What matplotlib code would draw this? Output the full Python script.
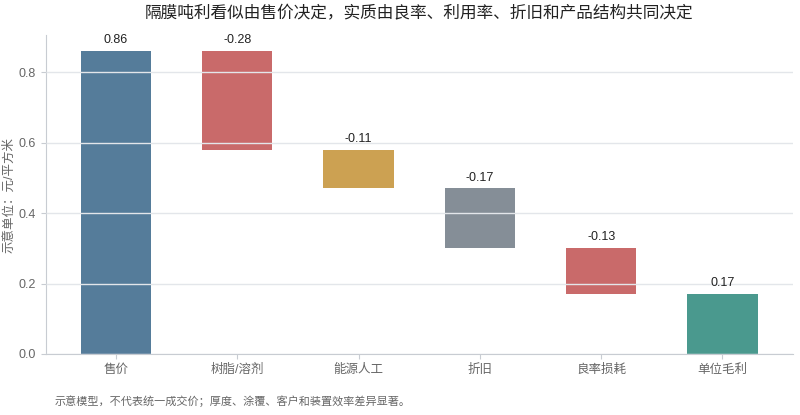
import matplotlib
matplotlib.use("Agg")
from matplotlib import pyplot as plt

# Waterfall data
categories = ["售价", "树脂/溶剂", "能源人工", "折旧", "良率损耗", "单位毛利"]
changes = [0.86, -0.28, -0.11, -0.17, -0.13, 0.17]
labels = ["0.86", "-0.28", "-0.11", "-0.17", "-0.13", "0.17"]
colors = ["#557c9a", "#c96a6a", "#cca152", "#858e97", "#c96a6a", "#4a998e"]

plt.rcParams["font.family"] = ["Liberation Sans", "Noto Sans CJK SC", "DejaVu Sans"]

fig, ax = plt.subplots(figsize=(8, 4.15), dpi=100)
fig.subplots_adjust(left=0.057, right=0.991, top=0.915, bottom=0.147)

# bottoms and heights for each bar
bottoms = []
heights = []
running = 0.0
for i, c in enumerate(changes):
    if i == 0 or i == len(changes) - 1:
        bottoms.append(0.0)
        heights.append(abs(c))
        running = c if i == 0 else running
    else:
        running += c
        bottoms.append(running)
        heights.append(-c)

x = list(range(len(categories)))
ax.bar(x, heights, bottom=bottoms, width=0.58, color=colors, zorder=1)

for xi, b, h, t in zip(x, bottoms, heights, labels):
    ax.text(xi, b + h + 0.014, t, ha="center", va="bottom", fontsize=9, color="#222222")

ax.set_xlim(-0.58, 5.58)
ax.set_ylim(0, 0.905)
ax.set_yticks([0.0, 0.2, 0.4, 0.6, 0.8])
ax.set_xticks(x)
ax.set_xticklabels(categories)
ax.yaxis.grid(True, color="#e3e6ea", linewidth=1, zorder=3)
ax.set_axisbelow(False)

for s in ["top", "right"]:
    ax.spines[s].set_visible(False)
for s in ["left", "bottom"]:
    ax.spines[s].set_color("#c8ccd2")
ax.tick_params(colors="#c8ccd2", labelcolor="#666666", labelsize=9)

ax.set_ylabel("示意单位：元/平方米", fontsize=9, color="#666666", labelpad=2)
ax.set_title("隔膜吨利看似由售价决定，实质由良率、利用率、折旧和产品结构共同决定",
             fontsize=12, color="#222222", pad=12)

fig.text(0.068, 0.025, "示意模型，不代表统一成交价；厚度、涂覆、客户和装置效率差异显著。",
         fontsize=8, color="#666666")

plt.savefig("out.png", dpi=100)
